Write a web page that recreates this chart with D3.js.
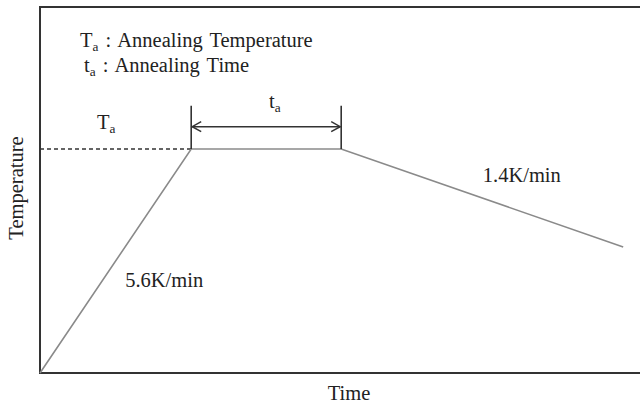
<!DOCTYPE html>
<html>
<head>
<meta charset="utf-8">
<script src="https://cdn.jsdelivr.net/npm/d3@7"></script>
<style>
  body { margin: 0; background: #fff; }
  text { font-family: "Liberation Serif", "Times New Roman", serif; fill: #222; }
</style>
</head>
<body>
<div id="chart"></div>
<script>
// annealing profile (time and temperature in arbitrary units)
const times = [0, 25.2, 50.2, 97.2];
const temps = [0, 61.2, 61.2, 34.4];
const rateLabels = ["5.6K/min", "1.4K/min"];
const axisTitles = { x: "Time", y: "Temperature" };

const width = 640, height = 405;
const margin = { top: 7, right: 0, bottom: 32, left: 40 };
const fs = 20.5;

const svg = d3.select("#chart").append("svg")
  .attr("width", width)
  .attr("height", height);

const x = d3.scaleLinear().domain([0, 100]).range([margin.left, width - margin.right]);
const y = d3.scaleLinear().domain([0, 100]).range([height - margin.bottom, margin.top]);

const pts = times.map((t, i) => ({ t: t, T: temps[i] }));

// frame (right side runs off the picture)
svg.append("path")
  .attr("d", `M${x(100) + 4},${y(100)} H${x(0)} V${y(0)} H${x(100) + 4}`)
  .attr("fill", "none")
  .attr("stroke", "#333")
  .attr("stroke-width", 2);

// dashed line at Ta
svg.append("line")
  .attr("x1", x(0)).attr("x2", x(times[1]))
  .attr("y1", y(temps[1])).attr("y2", y(temps[1]))
  .attr("stroke", "#333")
  .attr("stroke-width", 1.5)
  .attr("stroke-dasharray", "4,3");

// profile
const line = d3.line().x(d => x(d.t)).y(d => y(d.T));
svg.append("path")
  .datum(pts)
  .attr("d", line)
  .attr("fill", "none")
  .attr("stroke", "#8a8a8a")
  .attr("stroke-width", 1.6);

// holding-time markers
const topMark = 73;   // temp value where marker lines end
[times[1], times[2]].forEach(t => {
  svg.append("line")
    .attr("x1", x(t)).attr("x2", x(t))
    .attr("y1", y(temps[1])).attr("y2", y(topMark))
    .attr("stroke", "#333")
    .attr("stroke-width", 1.6);
});

// double arrow
const ay = y(67.3);
svg.append("line")
  .attr("x1", x(times[1]) + 1).attr("x2", x(times[2]) - 1)
  .attr("y1", ay).attr("y2", ay)
  .attr("stroke", "#333")
  .attr("stroke-width", 1.5);
[[x(times[1]) + 1, 1], [x(times[2]) - 1, -1]].forEach(([px, dir]) => {
  svg.append("path")
    .attr("d", `M${px + dir * 9},${ay - 5} L${px},${ay} L${px + dir * 9},${ay + 5}`)
    .attr("fill", "none")
    .attr("stroke", "#333")
    .attr("stroke-width", 1.5);
});

// text with subscript helper
function subText(px, py, main, sub, rest, size) {
  const t = svg.append("text")
    .attr("x", px).attr("y", py)
    .attr("font-size", size)
    .attr("word-spacing", 2);
  t.append("tspan").text(main);
  t.append("tspan").attr("font-size", size * 0.65).attr("dy", 4).text(sub);
  if (rest) t.append("tspan").attr("dy", -4).text(rest);
  return t;
}

subText(80, 47, "T", "a", " : Annealing Temperature", fs);
subText(84, 72, "t", "a", " : Annealing Time", fs);
subText(97, 129, "T", "a", null, fs);
subText(269, 108, "t", "a", null, fs);

// rate labels
svg.append("text")
  .attr("x", x(14.2)).attr("y", y(23.5))
  .attr("font-size", fs)
  .text(rateLabels[0]);
svg.append("text")
  .attr("x", x(73.8)).attr("y", y(52.2))
  .attr("font-size", fs)
  .text(rateLabels[1]);

// axis titles
svg.append("text")
  .attr("x", 349).attr("y", 400)
  .attr("text-anchor", "middle")
  .attr("font-size", fs)
  .text(axisTitles.x);
svg.append("text")
  .attr("transform", "translate(23,188) rotate(-90)")
  .attr("text-anchor", "middle")
  .attr("font-size", fs)
  .text(axisTitles.y);
</script>
</body>
</html>
